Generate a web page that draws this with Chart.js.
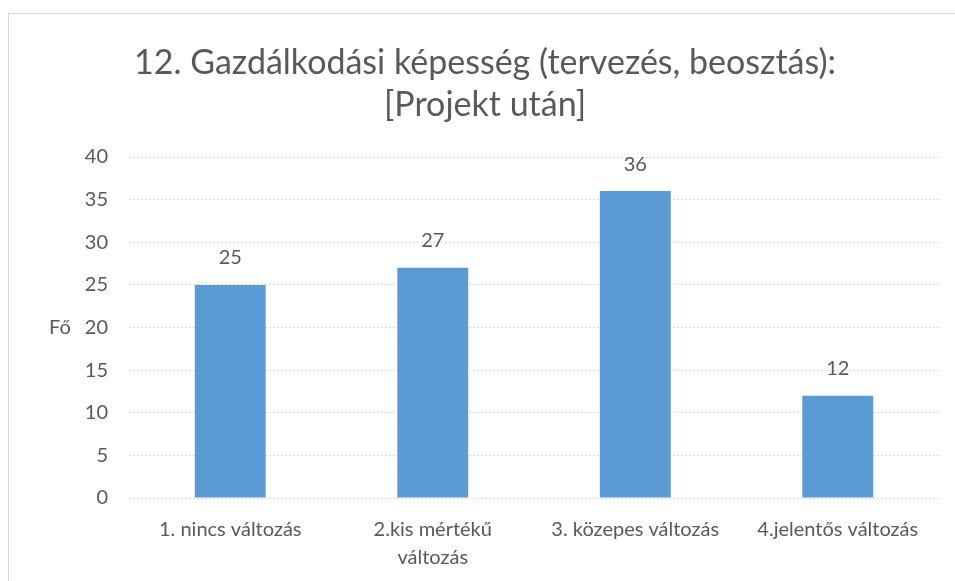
<!DOCTYPE html>
<html>
<head>
<meta charset="utf-8">
<script src="https://cdn.jsdelivr.net/npm/chart.js@4.4.1/dist/chart.umd.min.js"></script>
<style>
  html, body { margin: 0; padding: 0; background: #fff; }
  #wrap { width: 955px; height: 581px; position: relative; }
</style>
</head>
<body>
<div id="wrap"><canvas id="chart" width="955" height="581"></canvas></div>
<script>
// chart data
const categories = ["1. nincs változás", ["2.kis mértékű", "változás"], "3. közepes változás", "4.jelentős változás"];
const values = [25, 27, 36, 12];
const titleLines = ["12. Gazdálkodási képesség (tervezés, beosztás):", "[Projekt után]"];
const yTitle = "Fő";

const FONT = "Lato, 'Open Sans', sans-serif";
const TEXT = "#595959";

// frame around the chart
const framePlugin = {
    id: "frame",
    beforeDraw(chart) {
        const ctx = chart.ctx;
        ctx.save();
        ctx.strokeStyle = "#d9d9d9";
        ctx.lineWidth = 1;
        ctx.strokeRect(8.5, 13.5, 1000, 1000);
        ctx.restore();
    }
};

// value labels above bars + horizontal axis title
const labelPlugin = {
    id: "valueLabels",
    afterDatasetsDraw(chart) {
        const ctx = chart.ctx;
        ctx.save();
        ctx.fillStyle = TEXT;
        ctx.font = "20px " + FONT;
        ctx.textAlign = "center";
        ctx.textBaseline = "middle";
        chart.getDatasetMeta(0).data.forEach((bar, i) => {
            ctx.fillText(String(values[i]), bar.x, bar.y - 27);
        });
        ctx.fillText(yTitle, 60, (chart.chartArea.top + chart.chartArea.bottom) / 2);
        ctx.restore();
    }
};

new Chart(document.getElementById("chart"), {
    type: "bar",
    data: {
        labels: categories,
        datasets: [{
            data: values,
            backgroundColor: "#5b9bd5",
            categoryPercentage: 1,
            barPercentage: 0.35
        }]
    },
    options: {
        responsive: false,
        animation: false,
        layout: { padding: { left: 31, right: 16, top: 0, bottom: 0 } },
        plugins: {
            legend: { display: false },
            tooltip: { enabled: false },
            title: {
                display: true,
                text: titleLines,
                color: TEXT,
                font: { family: FONT, size: 34, weight: "normal", lineHeight: 42 / 34 },
                padding: { top: 42, bottom: 31 }
            }
        },
        scales: {
            x: {
                grid: { display: false, drawTicks: false },
                border: { display: false },
                ticks: {
                    color: TEXT,
                    font: { family: FONT, size: 20, lineHeight: 28 / 20 },
                    padding: 18,
                    maxRotation: 0,
                    autoSkip: false
                },
                afterFit(scale) { scale.height = 83; }
            },
            y: {
                min: 0,
                max: 40,
                grid: {
                    color: "#d9d9d9",
                    tickLength: 0,
                    drawTicks: false
                },
                border: { display: false, dash: [2, 2] },
                ticks: {
                    stepSize: 5,
                    color: TEXT,
                    font: { family: FONT, size: 20 },
                    padding: 21
                },
                afterFit(scale) { scale.width = 98; }
            }
        }
    },
    plugins: [framePlugin, labelPlugin]
});
</script>
</body>
</html>
